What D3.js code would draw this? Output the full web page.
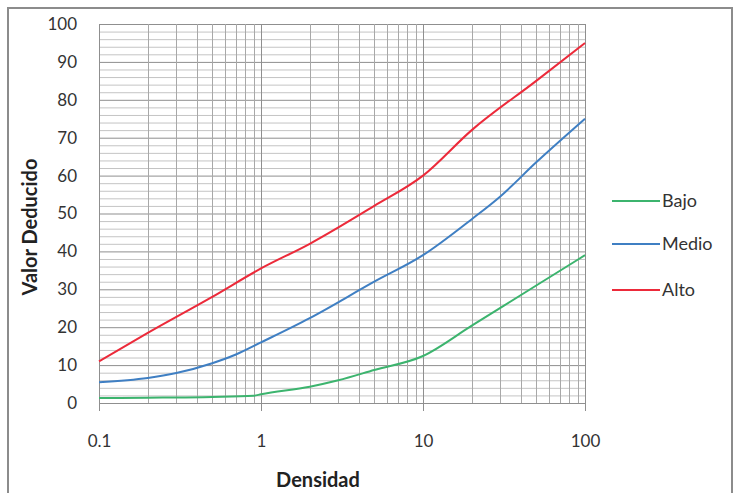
<!DOCTYPE html>
<html><head><meta charset="utf-8">
<script src="https://cdn.jsdelivr.net/npm/d3@7/dist/d3.min.js"></script>
<style>body{margin:0;background:#fff}svg{display:block}text{font-family:Lato,"Open Sans",sans-serif}</style>
</head><body><svg id="c" width="735" height="493"></svg>
<script>
const seriesNames = ["Bajo", "Medio", "Alto"];
const seriesColors = ["#3cb46e", "#3f7fc3", "#ec2a3a"];
const bajoX = [0.1, 0.2, 0.5, 0.9, 1, 2, 3, 5, 10, 20, 50, 100];
const bajoY = [1.3, 1.4, 1.6, 1.9, 2.3, 4.3, 6, 8.7, 12.4, 20.4, 31, 39];
const medioX = [0.1, 0.2, 0.3, 0.5, 0.7, 1, 2, 5, 10, 20, 30, 50, 100];
const medioY = [5.5, 6.6, 7.9, 10.5, 12.8, 16, 22.4, 32, 39, 48.5, 54.5, 63.5, 75];
const altoX = [0.1, 0.2, 0.5, 1, 2, 5, 10, 20, 50, 100];
const altoY = [11, 18.5, 28, 35.5, 42, 52, 60, 72, 85, 95];
const xTicks = [0.1, 1, 10, 100];
const yTicks = [0, 10, 20, 30, 40, 50, 60, 70, 80, 90, 100];
const xTitle = "Densidad";
const yTitle = "Valor Deducido";

const svg = d3.select("#c");
const L = 99, R = 585, T = 24, B = 403;
const x = d3.scaleLog().domain([0.1, 100]).range([L, R]);
const y = d3.scaleLinear().domain([0, 100]).range([B, T]);

// outer frame
svg.append("rect").attr("x", 8).attr("y", 8).attr("width", 724).attr("height", 490)
  .attr("fill", "none").attr("stroke", "#8c8c8c").attr("stroke-width", 2);

// minor grid
const g = svg.append("g");
const minorY = d3.range(0, 101, 2);
g.selectAll(".hy").data(minorY).join("line")
  .attr("x1", L).attr("x2", R).attr("y1", d => y(d) + 0.5).attr("y2", d => y(d) + 0.5)
  .attr("stroke", d => d % 10 === 0 ? "#8f8f8f" : "#c4c4c4").attr("stroke-width", 1);
const minorX = [];
[0.1, 1, 10].forEach(dec => { for (let k = 1; k <= 10; k++) minorX.push(+(dec * k).toPrecision(3)); });
g.selectAll(".vx").data(Array.from(new Set(minorX))).join("line")
  .attr("x1", d => Math.round(x(d)) + 0.5).attr("x2", d => Math.round(x(d)) + 0.5)
  .attr("y1", T).attr("y2", B)
  .attr("stroke", d => xTicks.includes(d) ? "#8f8f8f" : "#a8a8a8").attr("stroke-width", 1);

// x axis
const xAxis = d3.axisBottom(x).tickValues(xTicks).tickFormat(d => String(d)).tickSize(8).tickPadding(24);
const xa = svg.append("g").attr("transform", `translate(0,${B})`).call(xAxis);
xa.select(".domain").attr("stroke", "#8f8f8f");
xa.selectAll(".tick line").attr("stroke", "#8f8f8f");
xa.selectAll("text").attr("font-size", 17).attr("fill", "#333");

// y axis
const yAxis = d3.axisLeft(y).tickValues(yTicks).tickSize(0).tickPadding(22);
const ya = svg.append("g").attr("transform", `translate(${L},0)`).call(yAxis);
ya.select(".domain").attr("stroke", "#8f8f8f");
ya.selectAll("text").attr("font-size", 17).attr("fill", "#333");

// titles
svg.append("text").attr("x", 318).attr("y", 487).attr("text-anchor", "middle")
  .attr("font-size", 20).attr("font-weight", "bold").attr("fill", "#222").text(xTitle);
svg.append("text").attr("transform", "translate(37,227) rotate(-90)").attr("text-anchor", "middle")
  .attr("font-size", 20).attr("font-weight", "bold").attr("fill", "#222").text(yTitle);

// lines
const data = [d3.zip(bajoX, bajoY), d3.zip(medioX, medioY), d3.zip(altoX, altoY)];
const line = d3.line().x(d => x(d[0])).y(d => y(d[1])).curve(d3.curveMonotoneX);
svg.selectAll(".s").data(data).join("path")
  .attr("d", line).attr("fill", "none")
  .attr("stroke", (d, i) => seriesColors[i]).attr("stroke-width", 2);

// legend
const legY = [201, 244, 290];
const lg = svg.selectAll(".lg").data(seriesNames).join("g")
  .attr("transform", (d, i) => `translate(612,${legY[i]})`);
lg.append("line").attr("x1", 0).attr("x2", 48).attr("y1", 0).attr("y2", 0)
  .attr("stroke", (d, i) => seriesColors[i]).attr("stroke-width", 2);
lg.append("text").attr("x", 50).attr("y", 0).attr("dy", "0.35em")
  .attr("font-size", 18).attr("fill", "#333").text(d => d);
</script></body></html>
